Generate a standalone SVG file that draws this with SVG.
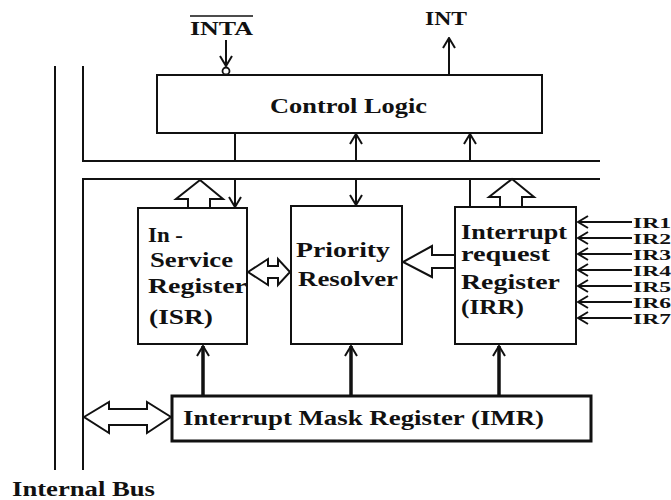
<svg xmlns="http://www.w3.org/2000/svg" width="671" height="500" viewBox="0 0 671 500">
<defs>
<style>
.box{fill:#fff;stroke:#111;stroke-width:2}
.ln{stroke:#111;stroke-width:2;fill:none}
.thick{stroke:#111;stroke-width:3.5;fill:none}
.hol{fill:#fff;stroke:#111;stroke-width:2;stroke-linejoin:miter}
.t{font-family:"Liberation Serif","Times New Roman",serif;font-weight:bold;fill:#111}
</style>
<marker id="ah" markerUnits="userSpaceOnUse" viewBox="0 0 12 14" refX="11" refY="7" markerWidth="12" markerHeight="14" orient="auto">
<path d="M1,1 L11,7 L1,13" fill="none" stroke="#111" stroke-width="2"/>
</marker>
</defs>
<rect width="671" height="500" fill="#fff"/>

<g id="internal-bus">
<line class="ln" x1="55" y1="66" x2="55" y2="470"/>
<polyline class="ln" points="83,66 83,161 600,161"/>
<polyline class="ln" points="600,179 83,179 83,470"/>
<text class="t" x="12" y="496" font-size="20" textLength="143" lengthAdjust="spacingAndGlyphs">Internal Bus</text>
</g>

<g id="control-logic">
<rect class="box" x="157" y="75" width="385" height="58"/>
<text class="t" x="270" y="113" font-size="21" textLength="157" lengthAdjust="spacingAndGlyphs">Control Logic</text>
</g>

<g id="inta">
<text class="t" x="190" y="35" font-size="18" textLength="63" lengthAdjust="spacingAndGlyphs">INTA</text>
<line x1="190" y1="16" x2="253" y2="16" stroke="#111" stroke-width="1.6"/>
</g>
<g id="int">
<text class="t" x="425" y="25" font-size="18" textLength="42" lengthAdjust="spacingAndGlyphs">INT</text>
</g>

<g id="isr">
<rect class="box" x="138" y="208" width="109" height="136"/>
<text class="t" x="148" y="242" font-size="21" textLength="35" lengthAdjust="spacingAndGlyphs">In -</text>
<text class="t" x="150" y="267" font-size="21" textLength="83" lengthAdjust="spacingAndGlyphs">Service</text>
<text class="t" x="148" y="293" font-size="21" textLength="99" lengthAdjust="spacingAndGlyphs">Register</text>
<text class="t" x="149" y="324" font-size="21" textLength="64" lengthAdjust="spacingAndGlyphs">(ISR)</text>
</g>

<g id="priority-resolver">
<rect class="box" x="291" y="206" width="111" height="138"/>
<text class="t" x="296" y="257" font-size="21" textLength="94" lengthAdjust="spacingAndGlyphs">Priority</text>
<text class="t" x="298" y="286" font-size="21" textLength="100" lengthAdjust="spacingAndGlyphs">Resolver</text>
</g>

<g id="irr">
<rect class="box" x="455" y="207" width="121" height="137"/>
<text class="t" x="461" y="239" font-size="21" textLength="106" lengthAdjust="spacingAndGlyphs">Interrupt</text>
<text class="t" x="461" y="261" font-size="21" textLength="89" lengthAdjust="spacingAndGlyphs">request</text>
<text class="t" x="461" y="289" font-size="21" textLength="99" lengthAdjust="spacingAndGlyphs">Register</text>
<text class="t" x="461" y="314" font-size="21" textLength="63" lengthAdjust="spacingAndGlyphs">(IRR)</text>
</g>

<g id="imr">
<rect x="172" y="396" width="419" height="45" fill="#fff" stroke="#111" stroke-width="3"/>
<text class="t" x="183" y="425" font-size="21" textLength="361" lengthAdjust="spacingAndGlyphs">Interrupt Mask Register (IMR)</text>
</g>

<g id="ir-inputs" class="t" font-size="14.5">
<text x="633" y="228" textLength="38" lengthAdjust="spacingAndGlyphs">IR1</text>
<text x="633" y="244" textLength="38" lengthAdjust="spacingAndGlyphs">IR2</text>
<text x="633" y="260" textLength="38" lengthAdjust="spacingAndGlyphs">IR3</text>
<text x="633" y="276" textLength="38" lengthAdjust="spacingAndGlyphs">IR4</text>
<text x="633" y="292" textLength="38" lengthAdjust="spacingAndGlyphs">IR5</text>
<text x="633" y="308" textLength="38" lengthAdjust="spacingAndGlyphs">IR6</text>
<text x="633" y="324" textLength="38" lengthAdjust="spacingAndGlyphs">IR7</text>
</g>

<g id="connectors">
<!-- INTA input with inversion bubble -->
<line class="ln" x1="226" y1="40" x2="226" y2="66" marker-end="url(#ah)"/>
<circle cx="226" cy="71" r="3.5" fill="#fff" stroke="#111" stroke-width="1.8"/>
<!-- INT output -->
<line class="ln" x1="449" y1="75" x2="449" y2="38" marker-end="url(#ah)"/>
<!-- control logic to/from bus -->
<line class="ln" x1="235" y1="133" x2="235" y2="161"/>
<line class="ln" x1="356" y1="161" x2="356" y2="134" marker-end="url(#ah)"/>
<line class="ln" x1="470" y1="161" x2="470" y2="134" marker-end="url(#ah)"/>
<!-- bus to blocks -->
<line class="ln" x1="235" y1="179" x2="235" y2="207" marker-end="url(#ah)"/>
<line class="ln" x1="356" y1="179" x2="356" y2="205" marker-end="url(#ah)"/>
<line class="ln" x1="470" y1="179" x2="470" y2="207"/>
<!-- hollow bus arrows -->
<polygon class="hol" points="188,208 188,199 176,199 200,180 223,199 210,199 210,208"/>
<polygon class="hol" points="500,207 500,197 489,197 512,179 534,197 522,197 522,207"/>
<!-- IRR to priority resolver -->
<polygon class="hol" points="455,255 432,255 432,246 403,262 432,277 432,268 455,268"/>
<!-- ISR <-> priority resolver -->
<polygon class="hol" points="248,272 268,259 268,266 278,266 278,259 290,272 278,285 278,278 268,278 268,285"/>
<!-- bus <-> IMR -->
<polygon class="hol" points="84,417 109,402 109,409 147,409 147,402 171,417 147,433 147,425 109,425 109,433"/>
<!-- IMR to registers -->
<line class="thick" x1="203" y1="396" x2="203" y2="346" marker-end="url(#ah)"/>
<line class="thick" x1="351" y1="396" x2="351" y2="346" marker-end="url(#ah)"/>
<line class="thick" x1="499" y1="396" x2="499" y2="346" marker-end="url(#ah)"/>
<!-- IR inputs -->
<line class="ln" x1="632" y1="222" x2="578" y2="222" marker-end="url(#ah)"/>
<line class="ln" x1="632" y1="238" x2="578" y2="238" marker-end="url(#ah)"/>
<line class="ln" x1="632" y1="254" x2="578" y2="254" marker-end="url(#ah)"/>
<line class="ln" x1="632" y1="270" x2="578" y2="270" marker-end="url(#ah)"/>
<line class="ln" x1="632" y1="286" x2="578" y2="286" marker-end="url(#ah)"/>
<line class="ln" x1="632" y1="302" x2="578" y2="302" marker-end="url(#ah)"/>
<line class="ln" x1="632" y1="318" x2="578" y2="318" marker-end="url(#ah)"/>
</g>
</svg>
